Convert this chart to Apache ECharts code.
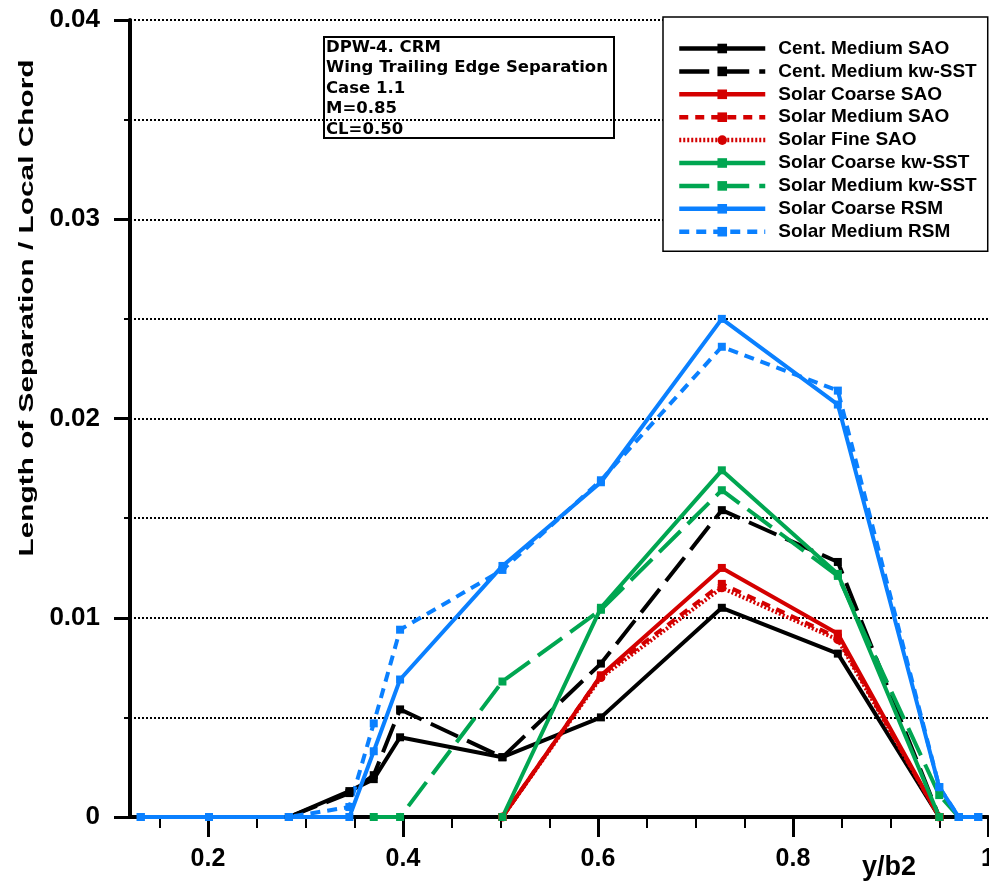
<!DOCTYPE html>
<html>
<head>
<meta charset="utf-8">
<title>DPW-4 CRM – Wing Trailing Edge Separation</title>
<script src="https://cdn.jsdelivr.net/npm/echarts@6/dist/echarts.min.js"></script>
<style>
  html, body { margin: 0; padding: 0; background: #fff; overflow: hidden; }
  #chart { width: 989px; height: 885px; }
</style>
</head>
<body>
<div id="chart"></div>
<script>
// Spanwise stations (y/b2)
const eta = [0.131, 0.201, 0.283, 0.345, 0.370, 0.397, 0.502, 0.603, 0.727, 0.846, 0.950, 0.970, 0.990];

// Length of separation / local chord at each station (null = no value at that station)
const centMediumSAO     = [null, null, 0, 0.0013, 0.0019, 0.0040, 0.0030, 0.0050, 0.0105, 0.0082, 0, null, null];
const centMediumKwSST   = [null, null, 0, 0.0012, 0.0021, 0.0054, 0.0030, 0.0077, 0.0154, 0.0128, 0, null, null];
const solarCoarseSAO    = [null, null, null, null, null, null, 0, 0.0071, 0.0125, 0.0092, 0, null, null];
const solarMediumSAO    = [null, null, null, null, null, null, 0, 0.0071, 0.0117, 0.0090, 0, null, null];
const solarFineSAO      = [null, null, null, null, null, null, 0, 0.0070, 0.0115, 0.0089, 0, null, null];
const solarCoarseKwSST  = [null, null, null, null, null, null, 0, 0.0105, 0.0174, 0.0122, 0, null, null];
const solarMediumKwSST  = [null, null, null, null, 0, 0, 0.0068, 0.0104, 0.0164, 0.0121, 0.0011, 0, null];
const solarCoarseRSM    = [0, 0, 0, 0, 0.0033, 0.0069, 0.0126, 0.0168, 0.0250, 0.0207, 0.0015, 0, 0];
const solarMediumRSM    = [0, 0, 0, 0.0005, 0.0047, 0.0094, 0.0124, 0.0169, 0.0236, 0.0214, 0.0015, 0, 0];

// Axis ticks
const xMajorTicks = [0.2, 0.4, 0.6, 0.8, 1.0];
const xMinorTicks = [0.15, 0.2, 0.25, 0.3, 0.35, 0.4, 0.45, 0.5, 0.55, 0.6, 0.65, 0.7, 0.75, 0.8, 0.85, 0.9, 0.95, 1.0];

const annotationLines = ['DPW-4. CRM', 'Wing Trailing Edge Separation', 'Case 1.1', 'M=0.85', 'CL=0.50'];

const BLACK = '#000000', RED = '#d40000', GREEN = '#00a651', BLUE = '#0a80ff';

const seriesDefs = [
  { name: 'Cent. Medium SAO',      values: centMediumSAO,    color: BLACK, dash: 'solid',  symbol: 'rect' },
  { name: 'Cent. Medium kw-SST',   values: centMediumKwSST,  color: BLACK, dash: [30, 10], symbol: 'rect' },
  { name: 'Solar Coarse SAO',      values: solarCoarseSAO,   color: RED,   dash: 'solid',  symbol: 'rect' },
  { name: 'Solar Medium SAO',      values: solarMediumSAO,   color: RED,   dash: [9, 7],   symbol: 'rect' },
  { name: 'Solar Fine SAO',        values: solarFineSAO,     color: RED,   dash: [2, 2],   symbol: 'circle' },
  { name: 'Solar Coarse kw-SST',   values: solarCoarseKwSST, color: GREEN, dash: 'solid',  symbol: 'rect' },
  { name: 'Solar Medium kw-SST',   values: solarMediumKwSST, color: GREEN, dash: [30, 10], symbol: 'rect' },
  { name: 'Solar Coarse RSM',      values: solarCoarseRSM,   color: BLUE,  dash: 'solid',  symbol: 'rect' },
  { name: 'Solar Medium RSM',      values: solarMediumRSM,   color: BLUE,  dash: [10, 7],  symbol: 'rect' }
];

function pairs(values) {
  const out = [];
  values.forEach(function (v, i) { if (v !== null) out.push([eta[i], v]); });
  return out;
}

const series = seriesDefs.map(function (d) {
  return {
    name: d.name,
    type: 'line',
    xAxisIndex: 0,
    yAxisIndex: 0,
    data: pairs(d.values),
    symbol: d.symbol,
    symbolSize: d.symbol === 'circle' ? 9 : 8,
    showSymbol: true,
    animation: false,
    lineStyle: { color: d.color, width: 4, type: d.dash },
    itemStyle: { color: d.color },
    emphasis: { disabled: true }
  };
});

const FONT = '"Liberation Sans", Arial, sans-serif';

const chart = echarts.init(document.getElementById('chart'), null, { renderer: 'canvas', width: 989, height: 885 });

chart.setOption({
  backgroundColor: '#ffffff',
  animation: false,
  grid: { left: 130, right: 1, top: 20, bottom: 68, containLabel: false, outerBoundsMode: 'none' },
  xAxis: [
    {
      type: 'value',
      min: 0.12,
      max: 1.0,
      position: 'bottom',
      z: 3,
      axisLine: { show: true, onZero: false, lineStyle: { color: '#000', width: 4 } },
      axisTick: { show: true, customValues: xMajorTicks, length: 20, lineStyle: { color: '#000', width: 3 } },
      axisLabel: {
        show: true, customValues: xMajorTicks, margin: 30,
        fontFamily: FONT, fontWeight: 'bold', fontSize: 25, color: '#000',
        formatter: function (v) { return v === 1 ? '1' : v.toFixed(1); }
      },
      splitLine: { show: false }
    },
    {
      type: 'value',
      min: 0.12,
      max: 1.0,
      position: 'bottom',
      z: 3,
      axisLine: { show: false },
      axisTick: { show: true, customValues: xMinorTicks, length: 11, lineStyle: { color: '#000', width: 2 } },
      axisLabel: { show: false },
      splitLine: { show: false }
    }
  ],
  yAxis: {
    type: 'value',
    min: 0,
    max: 0.04,
    interval: 0.01,
    z: 3,
    axisLine: { show: true, onZero: false, lineStyle: { color: '#000', width: 4 } },
    axisTick: { show: true, length: 16, lineStyle: { color: '#000', width: 3 } },
    minorTick: { show: true, splitNumber: 2, length: 6, lineStyle: { color: '#000', width: 2 } },
    axisLabel: {
      margin: 30,
      fontFamily: FONT, fontWeight: 'bold', fontSize: 26, color: '#000',
      formatter: function (v) { return v === 0 ? '0' : v.toFixed(2); }
    },
    splitLine: { show: true, lineStyle: { color: '#000', width: 2, type: [2, 2] } },
    minorSplitLine: { show: true, lineStyle: { color: '#000', width: 2, type: [2, 2] } }
  },
  legend: {
    orient: 'vertical',
    left: 663,
    top: 17,
    padding: [22, 11, 10, 14],
    itemWidth: 86,
    itemHeight: 12,
    itemGap: 3.9,
    selectedMode: false,
    backgroundColor: '#ffffff',
    borderColor: '#000',
    borderWidth: 1.5,
    borderRadius: 0,
    z: 10,
    lineStyle: { width: 4.5 },
    itemStyle: { borderWidth: 0 },
    textStyle: {
      fontFamily: FONT, fontWeight: 'bold', fontSize: 19,
      color: '#000', padding: [0, 0, 0, 8]
    },
    data: seriesDefs.map(function (d) { return d.name; })
  },
  graphic: [
    {
      type: 'group',
      z: 10,
      children: [
        {
          type: 'rect',
          shape: { x: 324, y: 37, width: 290, height: 101 },
          style: { fill: '#ffffff', stroke: '#000', lineWidth: 2 }
        },
        {
          type: 'text',
          x: 326, y: 37,
          style: {
            text: annotationLines.join('\n'),
            font: 'bold 16.5px "DejaVu Sans", sans-serif',
            lineHeight: 20.5,
            fill: '#000'
          }
        }
      ]
    },
    {
      type: 'text',
      x: 27, y: 308,
      rotation: Math.PI / 2,
      scaleX: 1.42,
      z: 10,
      style: {
        text: 'Length of Separation / Local Chord',
        font: 'bold 21px ' + FONT,
        fill: '#000',
        align: 'center', verticalAlign: 'middle',
        textAlign: 'center', textVerticalAlign: 'middle'
      }
    },
    {
      type: 'text',
      x: 889, y: 868,
      z: 10,
      style: {
        text: 'y/b2',
        font: 'bold 27px ' + FONT,
        fill: '#000',
        align: 'center', verticalAlign: 'middle',
        textAlign: 'center', textVerticalAlign: 'middle'
      }
    }
  ],
  series: series
});
</script>
</body>
</html>
